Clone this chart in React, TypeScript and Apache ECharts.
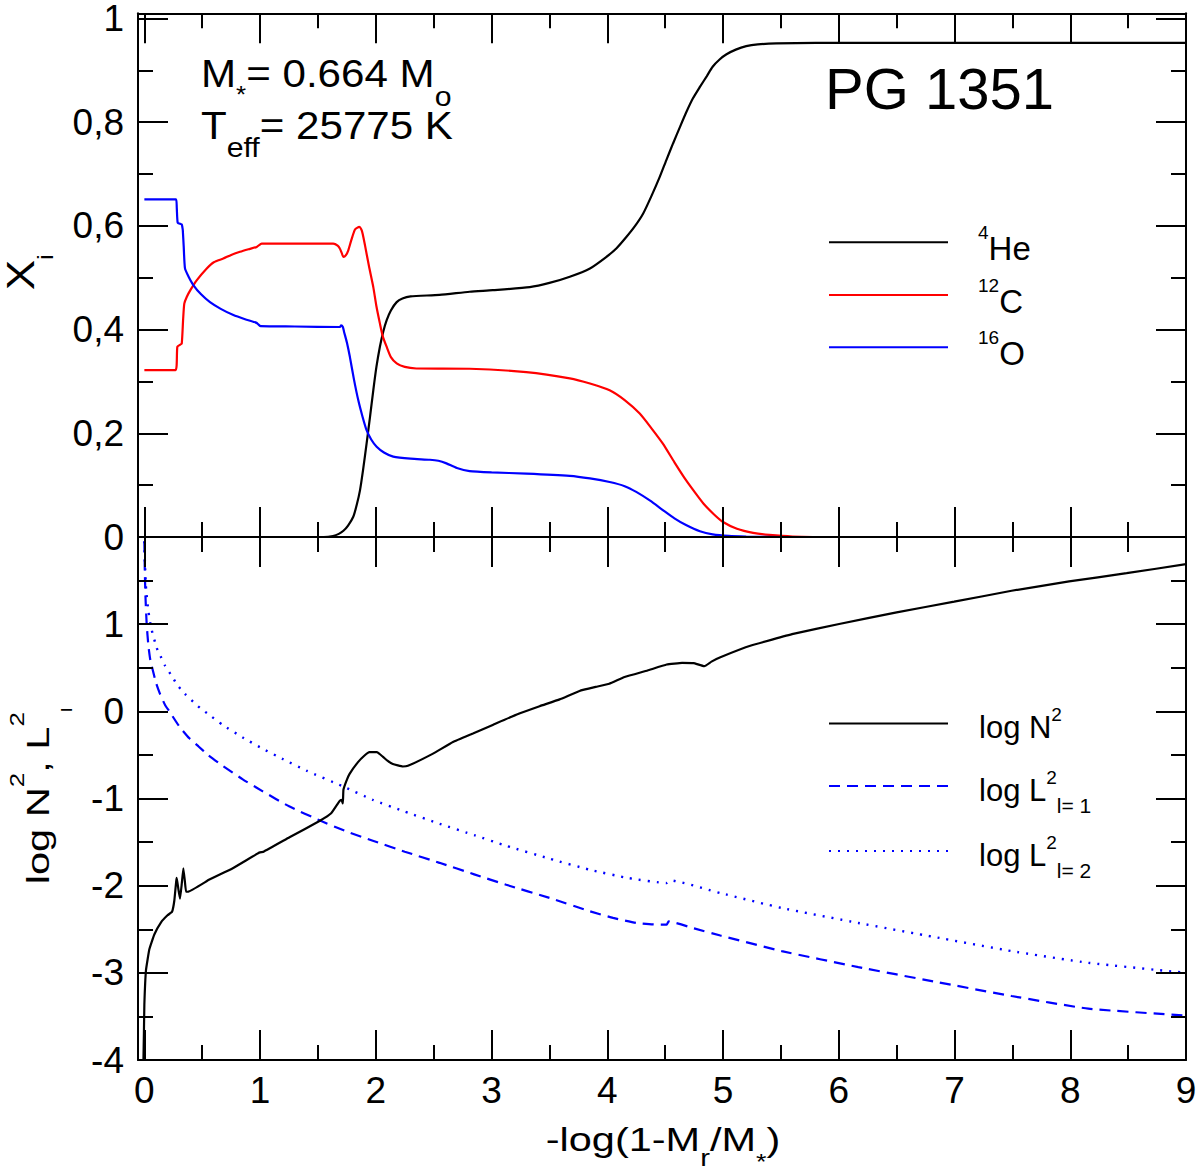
import { useEffect, useRef } from 'react';
import * as echarts from 'echarts';

type Pt = [number, number];

// chemical profiles, x = -log(1-Mr/M*)
const he4: Pt[] = [
  [0, 0], [1.55, 0], [1.63, 0.002], [1.68, 0.006], [1.72, 0.012], [1.76, 0.022], [1.805, 0.039],
  [1.835, 0.062], [1.863, 0.09], [1.89, 0.13], [1.92, 0.18], [1.95, 0.232], [1.978, 0.283],
  [2.005, 0.328], [2.035, 0.367], [2.065, 0.397], [2.093, 0.418], [2.13, 0.437], [2.18, 0.453],
  [2.23, 0.46], [2.3, 0.464], [2.55, 0.467], [2.81, 0.473], [3.01, 0.476], [3.33, 0.482],
  [3.5, 0.49], [3.676, 0.502], [3.85, 0.518], [3.99, 0.54], [4.08, 0.557], [4.166, 0.579],
  [4.24, 0.6], [4.31, 0.624], [4.38, 0.657], [4.453, 0.6945], [4.51, 0.727], [4.568, 0.759],
  [4.63, 0.792], [4.684, 0.82], [4.74, 0.846], [4.8, 0.868], [4.86, 0.889], [4.91, 0.907],
  [4.97, 0.921], [5.03, 0.931], [5.11, 0.94], [5.2, 0.9466], [5.3, 0.95], [5.46, 0.952],
  [5.8, 0.953], [9, 0.953],
];

const c12: Pt[] = [
  [0, 0.322], [0.27, 0.322], [0.285, 0.367], [0.31, 0.371], [0.323, 0.373], [0.335, 0.42],
  [0.345, 0.45], [0.366, 0.463], [0.4, 0.477], [0.452, 0.495], [0.539, 0.518], [0.6, 0.53],
  [0.682, 0.537], [0.75, 0.544], [0.826, 0.55], [0.9, 0.555], [0.971, 0.5595], [1.014, 0.566],
  [1.3, 0.566], [1.632, 0.566], [1.67, 0.562], [1.69, 0.556], [1.705, 0.548], [1.72, 0.54],
  [1.74, 0.543], [1.762, 0.553], [1.79, 0.574], [1.82, 0.593], [1.857, 0.598], [1.875, 0.593],
  [1.886, 0.585], [1.906, 0.563], [1.94, 0.523], [1.978, 0.482], [2.005, 0.445], [2.035, 0.412],
  [2.06, 0.387], [2.093, 0.367], [2.13, 0.347], [2.18, 0.335], [2.25, 0.328], [2.35, 0.325],
  [2.81, 0.3245], [3.3, 0.318], [3.676, 0.306], [3.85, 0.296], [4.02, 0.283], [4.15, 0.264],
  [4.28, 0.238], [4.38, 0.21], [4.48, 0.18], [4.58, 0.144], [4.68, 0.1095], [4.76, 0.085],
  [4.83, 0.0646], [4.92, 0.044], [5.0, 0.029], [5.12, 0.016], [5.26, 0.008], [5.4, 0.004],
  [5.6, 0.001], [6.0, 0], [9, 0],
];

const o16: Pt[] = [
  [0, 0.651], [0.274, 0.651], [0.28, 0.635], [0.288, 0.606], [0.31, 0.604], [0.323, 0.603],
  [0.328, 0.598], [0.332, 0.592], [0.34, 0.56], [0.351, 0.518], [0.38, 0.503], [0.423, 0.486],
  [0.49, 0.468], [0.567, 0.453], [0.66, 0.44], [0.769, 0.428], [0.87, 0.42], [0.97, 0.413],
  [0.985, 0.41], [1.005, 0.4066], [1.3, 0.406], [1.69, 0.405], [1.7, 0.408], [1.715, 0.405],
  [1.725, 0.396], [1.75, 0.375], [1.776, 0.347], [1.81, 0.305], [1.848, 0.264], [1.885, 0.232],
  [1.92, 0.206], [1.96, 0.188], [2.007, 0.174], [2.07, 0.163], [2.15, 0.155], [2.3, 0.151],
  [2.467, 0.149], [2.54, 0.147], [2.61, 0.142], [2.7, 0.133], [2.81, 0.127], [3.0, 0.1245],
  [3.3, 0.1224], [3.676, 0.118], [3.85, 0.113], [4.02, 0.106], [4.15, 0.098], [4.25, 0.087],
  [4.37, 0.07], [4.48, 0.052], [4.58, 0.036], [4.68, 0.023], [4.8, 0.011], [4.91, 0.005],
  [5.05, 0.002], [5.2, 0.001], [5.5, 0], [9, 0],
];

// Brunt-Vaisala and Lamb frequencies
const logN2: Pt[] = [
  [-0.008, -4.0], [-0.004, -3.7], [0, -3.36], [0.014, -2.97], [0.043, -2.73], [0.086, -2.56],
  [0.144, -2.42], [0.2, -2.34], [0.239, -2.3], [0.259, -2.17], [0.275, -1.95], [0.28, -1.91],
  [0.295, -2.05], [0.308, -2.15], [0.323, -1.98], [0.337, -1.8], [0.35, -1.95], [0.36, -2.07],
  [0.375, -2.07], [0.562, -1.93], [0.764, -1.8], [0.994, -1.62], [1.03, -1.61], [1.254, -1.445],
  [1.513, -1.258], [1.614, -1.17], [1.686, -1.03], [1.703, -1.016], [1.715, -1.055], [1.72, -0.9],
  [1.745, -0.8], [1.772, -0.72], [1.844, -0.586], [1.9, -0.51], [1.945, -0.469], [2.009, -0.469],
  [2.06, -0.52], [2.1, -0.566], [2.147, -0.605], [2.233, -0.633], [2.277, -0.625], [2.49, -0.488],
  [2.666, -0.352], [2.839, -0.254], [3.01, -0.156], [3.213, -0.039], [3.415, 0.059], [3.588, 0.137],
  [3.76, 0.234], [3.9, 0.28], [4.017, 0.316], [4.149, 0.393], [4.348, 0.469], [4.513, 0.537],
  [4.646, 0.556], [4.745, 0.553], [4.838, 0.518], [4.9, 0.57], [4.977, 0.621], [5.242, 0.755],
  [5.606, 0.888], [6.003, 1.002], [6.5, 1.136], [6.997, 1.258], [7.493, 1.383], [7.99, 1.49],
  [8.487, 1.585], [9.0, 1.688],
];

const logL1: Pt[] = [
  [0, 1.95], [0.004, 1.6], [0.01, 1.3], [0.02, 1.0], [0.035, 0.75], [0.05, 0.6], [0.064, 0.52],
  [0.1, 0.33], [0.135, 0.2], [0.18, 0.07], [0.216, 0.0], [0.3, -0.17], [0.389, -0.31],
  [0.466, -0.4], [0.55, -0.5], [0.677, -0.625], [0.85, -0.78], [1.023, -0.918], [1.25, -1.09],
  [1.513, -1.25], [1.75, -1.38], [1.974, -1.484], [2.25, -1.61], [2.55, -1.738], [2.85, -1.87],
  [3.127, -1.99], [3.5, -2.14], [3.851, -2.294], [4.05, -2.37], [4.248, -2.428], [4.4, -2.445],
  [4.513, -2.447], [4.53, -2.41], [4.75, -2.49], [4.977, -2.572], [5.507, -2.751], [6.169, -2.934],
  [6.831, -3.102], [7.493, -3.266], [8.156, -3.411], [9, -3.49],
];

const logL2: Pt[] = [
  [0, 1.95], [0.005, 1.7], [0.015, 1.4], [0.035, 1.147], [0.06, 0.95], [0.107, 0.726],
  [0.13, 0.66], [0.18, 0.52], [0.245, 0.39], [0.28, 0.31], [0.35, 0.2], [0.447, 0.078],
  [0.48, 0.04], [0.55, -0.03], [0.677, -0.156], [0.85, -0.3], [1.023, -0.43], [1.2, -0.55],
  [1.4, -0.68], [1.715, -0.86], [1.974, -1.016], [2.25, -1.15], [2.55, -1.29], [2.85, -1.42],
  [3.127, -1.543], [3.5, -1.69], [3.851, -1.818], [4.182, -1.913], [4.513, -1.97], [4.546, -1.94],
  [4.977, -2.085], [5.507, -2.256], [6.169, -2.428], [6.83, -2.59], [7.49, -2.75], [8.156, -2.885],
  [9, -3.0],
];

const FONT = 'Liberation Sans';
const BLACK = '#000000';
const RED = '#ff0000';
const BLUE = '#0000ff';

const near = (v: number, step: number) => Math.abs(v / step - Math.round(v / step)) < 1e-6;

function xAxis(gridIndex: number, position: 'top' | 'bottom', showLabels: boolean) {
  return {
    type: 'value',
    gridIndex,
    position,
    z: 5,
    min: -0.055,
    max: 9,
    splitNumber: 9,
    minInterval: 1,
    maxInterval: 1,
    axisLine: { show: true, onZero: false, lineStyle: { color: BLACK, width: 2 } },
    axisTick: { show: true, inside: true, length: 30, lineStyle: { color: BLACK, width: 2 } },
    minorTick: { show: true, splitNumber: 2, length: 15, lineStyle: { color: BLACK, width: 2 } },
    splitLine: { show: false },
    axisLabel: {
      show: showLabels,
      margin: 12,
      fontFamily: FONT,
      fontSize: 37,
      color: BLACK,
      formatter: (v: number) => (near(v, 1) ? String(Math.round(v)) : ''),
    },
  };
}

function yAxis(
  gridIndex: number,
  position: 'left' | 'right',
  min: number,
  max: number,
  interval: number,
  fmt: ((v: number) => string) | null
) {
  return {
    type: 'value',
    gridIndex,
    position,
    z: 5,
    min,
    max,
    interval,
    axisLine: { show: true, onZero: false, lineStyle: { color: BLACK, width: 2 } },
    axisTick: { show: true, inside: true, length: 30, lineStyle: { color: BLACK, width: 2 } },
    minorTick: { show: true, splitNumber: 2, length: 15, lineStyle: { color: BLACK, width: 2 } },
    splitLine: { show: false },
    axisLabel: {
      show: fmt !== null,
      margin: 14,
      fontFamily: FONT,
      fontSize: 37,
      lineHeight: 30,
      color: BLACK,
      formatter: fmt ?? undefined,
    },
  };
}

const fmtX = (v: number) => {
  if (!near(v, 0.2) || v > 1.001) return '';
  const r = Math.round(v * 10) / 10;
  if (r === 0) return '0';
  if (r === 1) return '1';
  return r.toFixed(1).replace('.', ',');
};
const fmtLog = (v: number) => (near(v, 1) && v < 1.5 ? String(Math.round(v)) : '');

// legend rich tokens (ECharts text style)
const lt = (fontSize: number, padding: number[]) => ({
  fontFamily: FONT,
  fontSize,
  padding,
  color: BLACK,
});

const legendRich = {
  s0: lt(19, [0, 0, 19, 25]),
  m: lt(33, [13, 0, 0, 0]),
  b0: lt(31, [8, 0, 0, 26]),
  bsup: lt(19, [0, 0, 18, 0]),
  bsub: lt(21, [38, 0, 0, 0]),
};

// measured: the legend row (icon line) sits ~18.4px below the legend top
function legendItem(name: string, rowY: number, text: string) {
  return {
    left: 828,
    top: rowY - 18.4,
    orient: 'vertical',
    padding: 0,
    itemWidth: 119,
    itemHeight: 2,
    selectedMode: false,
    data: [name],
    itemStyle: { opacity: 0 },
    formatter: () => text,
    textStyle: { fontFamily: FONT, color: BLACK, rich: legendRich },
  };
}

// graphic rich tokens (zrender text style)
const gt = (fontSize: number, padding: number[] = [0, 0, 0, 0]) => ({
  fontFamily: FONT,
  fontSize,
  lineHeight: fontSize,
  padding,
  fill: BLACK,
});

function gText(
  x: number,
  y: number,
  text: string,
  rich: Record<string, object>,
  align: 'left' | 'center' = 'left',
  rotation = 0,
  scaleX = 1
) {
  return {
    type: 'text',
    x,
    y,
    rotation,
    scaleX,
    z: 100,
    style: {
      text,
      fontFamily: FONT,
      fontSize: 36,
      fill: BLACK,
      align,
      verticalAlign: 'middle',
      textAlign: align,
      textVerticalAlign: 'middle',
      rich,
    },
  };
}

export default function App() {
  const chartRef = useRef<HTMLDivElement>(null);

  useEffect(() => {
    if (!chartRef.current) return;
    document.body.style.margin = '0';
    const chart = echarts.init(chartRef.current, null, { renderer: 'svg' });

    const lineSeries = (
      name: string,
      data: Pt[],
      xi: number,
      yi: number,
      color: string,
      type: any = 'solid',
      width = 2.2,
      smooth = 0.2
    ) => ({
      name,
      type: 'line',
      xAxisIndex: xi,
      yAxisIndex: yi,
      data,
      z: 1,
      showSymbol: false,
      symbol: 'none',
      smooth,
      lineStyle: { color, width, type },
      itemStyle: { color },
      emphasis: { disabled: true },
    });

    const option: any = {
      animation: false,
      backgroundColor: '#ffffff',
      grid: [
        { left: 138, top: 13, width: 1048, height: 524 },
        { left: 138, top: 537, width: 1048, height: 523 },
      ],
      xAxis: [
        xAxis(0, 'bottom', false),
        xAxis(0, 'top', false),
        xAxis(1, 'top', false),
        xAxis(1, 'bottom', true),
      ],
      yAxis: [
        yAxis(0, 'left', 0, 1.01, 0.2, fmtX),
        yAxis(0, 'right', 0, 1.01, 0.2, null),
        yAxis(1, 'left', -4, 2, 1, fmtLog),
        yAxis(1, 'right', -4, 2, 1, null),
      ],
      legend: [
        legendItem('He4', 241.7, '{s0|4}{m|He}'),
        legendItem('C12', 294.3, '{s0|12}{m|C}'),
        legendItem('O16', 346.7, '{s0|16}{m|O}'),
        legendItem('N2', 723.3, '{b0|log N}{bsup|2}'),
        legendItem('L1', 786, '{b0|log L}{bsup|2}{bsub|l= 1}'),
        legendItem('L2', 851, '{b0|log L}{bsup|2}{bsub|l= 2}'),
      ],
      series: [
        lineSeries('He4', he4, 1, 0, BLACK),
        lineSeries('C12', c12, 1, 0, RED),
        lineSeries('O16', o16, 1, 0, BLUE),
        lineSeries('L1', logL1, 3, 2, BLUE, [11, 7], 2.2, 0.15),
        lineSeries('L2', logL2, 3, 2, BLUE, [2, 7], 2.4, 0.15),
        lineSeries('N2', logN2, 3, 2, BLACK, 'solid', 2.2, 0.1),
      ],
      graphic: {
        elements: [
          gText(
            201,
            74,
            '{m|M}{a|*}{m|= 0.664 M}{o|o}',
            {
              m: gt(39),
              a: gt(24, [40, 0, 0, 0]),
              o: gt(28, [45, 0, 0, 0]),
            },
            'left',
            0,
            1.08
          ),
          gText(
            201,
            126,
            '{m|T}{e|eff}{m|= 25775 K}',
            {
              m: gt(39),
              e: gt(28, [42, 0, 0, 0]),
            },
            'left',
            0,
            1.08
          ),
          gText(825, 88.5, '{m|PG 1351}', { m: gt(58) }),
          gText(
            663,
            1139,
            '{m|-log(1-M}{r|r}{m|/M}{a|*}{m|)}',
            {
              m: gt(34),
              r: gt(24, [38, 0, 0, 0]),
              a: gt(22, [44, 0, 0, 0]),
            },
            'center',
            0,
            1.22
          ),
          gText(21, 275, '{m|X}', { m: gt(38) }, 'center', Math.PI / 2, 1.2),
          gText(45.5, 257, '{m|i}', { m: gt(22) }, 'center', Math.PI / 2, 1.2),
          gText(
            38,
            796,
            '{m|log N}{p|2}{m|, L}{p|2}{l|l}',
            {
              m: gt(32),
              p: gt(20, [0, 0, 42, 0]),
              l: gt(15, [57, 0, 0, 0]),
            },
            'center',
            Math.PI / 2,
            1.3
          ),
        ],
      },
    };

    chart.setOption(option);
    return () => {
      chart.dispose();
    };
  }, []);

  return <div ref={chartRef} style={{ width: '1200px', height: '1173px' }} />;
}
